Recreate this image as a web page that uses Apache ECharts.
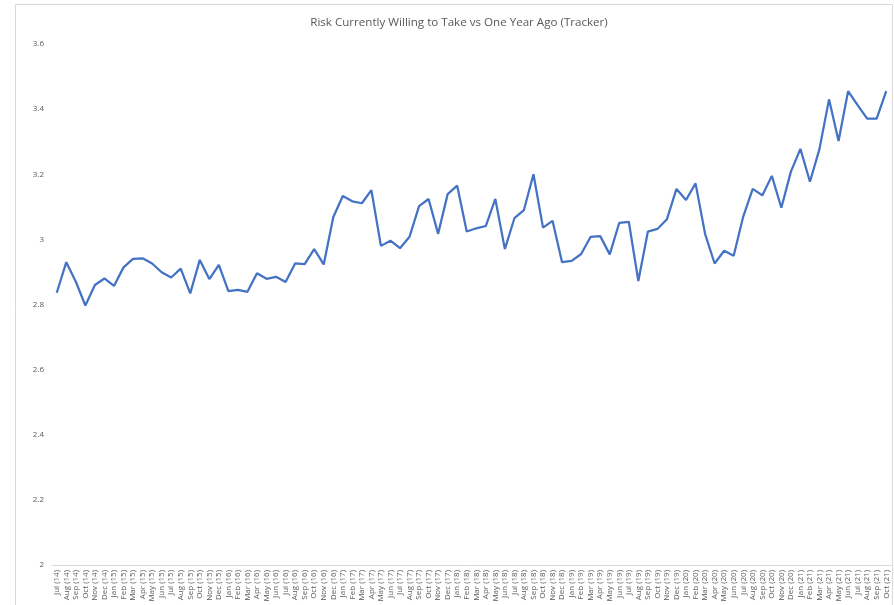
<!DOCTYPE html>
<html>
<head>
<meta charset="utf-8">
<script src="https://cdn.jsdelivr.net/npm/echarts@6/dist/echarts.min.js"></script>
<style>html,body{margin:0;padding:0;background:#fff}#c{width:894px;height:605px}</style>
</head>
<body>
<div id="c"></div>
<script>
const categories = [
 'Jul (14)','Aug (14)','Sep (14)','Oct (14)','Nov (14)','Dec (14)',
 'Jan (15)','Feb (15)','Mar (15)','Apr (15)','May (15)','Jun (15)','Jul (15)','Aug (15)','Sep (15)','Oct (15)','Nov (15)','Dec (15)',
 'Jan (16)','Feb (16)','Mar (16)','Apr (16)','May (16)','Jun (16)','Jul (16)','Aug (16)','Sep (16)','Oct (16)','Nov (16)','Dec (16)',
 'Jan (17)','Feb (17)','Mar (17)','Apr (17)','May (17)','Jun (17)','Jul (17)','Aug (17)','Sep (17)','Oct (17)','Nov (17)','Dec (17)',
 'Jan (18)','Feb (18)','Mar (18)','Apr (18)','May (18)','Jun (18)','Jul (18)','Aug (18)','Sep (18)','Oct (18)','Nov (18)','Dec (18)',
 'Jan (19)','Feb (19)','Mar (19)','Apr (19)','May (19)','Jun (19)','Jul (19)','Aug (19)','Sep (19)','Oct (19)','Nov (19)','Dec (19)',
 'Jan (20)','Feb (20)','Mar (20)','Apr (20)','May (20)','Jun (20)','Jul (20)','Aug (20)','Sep (20)','Oct (20)','Nov (20)','Dec (20)',
 'Jan (21)','Feb (21)','Mar (21)','Apr (21)','May (21)','Jun (21)','Jul (21)','Aug (21)','Sep (21)','Oct (21)'
];
const riskValues = [
 2.836,2.930,2.870,2.797,2.860,2.880,
 2.857,2.914,2.940,2.942,2.926,2.899,2.883,2.910,2.834,2.937,2.878,2.922,
 2.841,2.845,2.839,2.896,2.879,2.885,2.869,2.926,2.924,2.970,2.923,3.068,
 3.133,3.117,3.111,3.151,2.980,2.996,2.973,3.008,3.102,3.124,3.017,3.139,
 3.165,3.024,3.034,3.041,3.124,2.970,3.065,3.090,3.200,3.036,3.057,2.930,
 2.934,2.955,3.008,3.010,2.954,3.051,3.054,2.872,3.024,3.032,3.062,3.155,
 3.121,3.172,3.017,2.926,2.965,2.950,3.070,3.155,3.135,3.195,3.097,3.208,
 3.278,3.177,3.278,3.430,3.302,3.455,3.412,3.371,3.371,3.455
];
const yTicks = {min: 2, max: 3.6, interval: 0.2};
const chartTitle = 'Risk Currently Willing to Take vs One Year Ago (Tracker)';

const chart = echarts.init(document.getElementById('c'), null, {renderer: 'canvas'});
chart.setOption({
  animation: false,
  backgroundColor: '#fff',
  title: {
    text: chartTitle, left: 454, top: 12, textAlign: 'center',
    textStyle: {fontFamily: 'Open Sans', fontSize: 11.6, fontWeight: 'normal', color: '#595959'}
  },
  graphic: [{
    type: 'rect', silent: true, z: -1,
    shape: {x: 15.5, y: 4.5, width: 877, height: 610},
    style: {fill: 'none', stroke: '#d9d9d9', lineWidth: 1}
  }],
  grid: {left: 52, right: 3, top: 44, bottom: 40, containLabel: false},
  xAxis: {
    type: 'category', data: categories, boundaryGap: true,
    axisLine: {show: true, lineStyle: {color: '#d9d9d9', width: 1}},
    axisTick: {show: false},
    axisLabel: {interval: 0, rotate: 90, fontSize: 8, color: '#595959', fontFamily: 'Open Sans', margin: 5}
  },
  yAxis: {
    type: 'value', min: yTicks.min, max: yTicks.max, interval: yTicks.interval,
    axisLine: {show: false}, axisTick: {show: false}, splitLine: {show: false},
    axisLabel: {fontSize: 8, color: '#595959', fontFamily: 'Open Sans', margin: 8,
      formatter: v => String(parseFloat(v.toFixed(1)))}
  },
  series: [{
    type: 'line', data: riskValues, showSymbol: false,
    lineStyle: {color: '#4472C4', width: 2.25}, itemStyle: {color: '#4472C4'}
  }]
});
</script>
</body>
</html>
